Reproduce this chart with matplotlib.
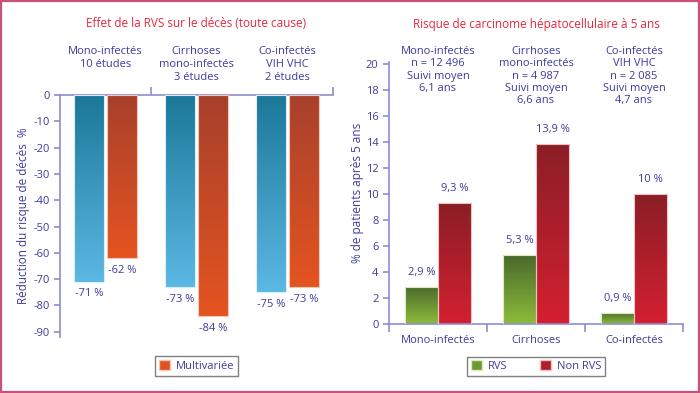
import matplotlib
matplotlib.use("Agg")
import matplotlib.pyplot as plt
import numpy as np
from matplotlib.colors import LinearSegmentedColormap
from matplotlib.patches import Rectangle

plt.rcParams['font.family'] = ['Open Sans', 'DejaVu Sans']

# ---------------- data ----------------
left_title = "Effet de la RVS sur le décès (toute cause)"
left_groups = ["Mono-infectés\n10 études", "Cirrhoses\nmono-infectés\n3 études", "Co-infectés\nVIH VHC\n2 études"]
left_univ = [-71, -73, -75]
left_multi = [-62, -84, -73]
left_yticks = [0, -10, -20, -30, -40, -50, -60, -70, -80, -90]
left_ylabel = "Réduction du risque de décès  %"
left_legend = "Multivariée"

right_title = "Risque de carcinome hépatocellulaire à 5 ans"
right_groups = ["Mono-infectés\nn = 12 496\nSuivi moyen\n6,1 ans",
                "Cirrhoses\nmono-infectés\nn = 4 987\nSuivi moyen\n6,6 ans",
                "Co-infectés\nVIH VHC\nn = 2 085\nSuivi moyen\n4,7 ans"]
right_cats = ["Mono-infectés", "Cirrhoses", "Co-infectés"]
rvs = [2.9, 5.3, 0.9]
non_rvs = [9.3, 13.9, 10.0]
right_yticks = [0, 2, 4, 6, 8, 10, 12, 14, 16, 18, 20]
right_ylabel = "% de patients après 5 ans"
right_legend = ["RVS", "Non RVS"]

# ---------------- style ----------------
TXT = "#3c3c9c"
SPINE = "#8c8cd2"
TITLE = "#e8283c"
BORDER = "#c8507a"

cm_blue = LinearSegmentedColormap.from_list("b", ["#1c7898", "#5cb8e4"])
cm_orange = LinearSegmentedColormap.from_list("o", ["#a8402c", "#e45420"])
cm_green = LinearSegmentedColormap.from_list("g", ["#4a6a2c", "#8cbc3a"])
cm_red = LinearSegmentedColormap.from_list("r", ["#8a1e26", "#d42030"])

grad = np.linspace(0, 1, 256).reshape(-1, 1)


def gradient_bars(ax, bars, cmap):
    for b in bars:
        x0, y0 = b.get_x(), b.get_y()
        w, h = b.get_width(), b.get_height()
        ylo, yhi = min(y0, y0 + h), max(y0, y0 + h)
        b.set_facecolor("none")
        im = ax.imshow(grad, cmap=cmap, aspect="auto",
                       extent=(x0, x0 + w, ylo, yhi), origin="upper", zorder=2)
        im.set_clip_path(b)


fig = plt.figure(figsize=(7.0, 3.93), dpi=100)
fig.patches.append(Rectangle((0.0015, 0.0025), 0.997, 0.995, transform=fig.transFigure,
                             fill=False, edgecolor=BORDER, linewidth=1.6))

# ---------------- left chart ----------------
axL = fig.add_axes([0.0857, 0.1425, 0.39, 0.6158])
x = np.arange(3)
w = 0.33
bu = axL.bar(x - 0.18, left_univ, w, edgecolor="#d8eef8", linewidth=0.8, zorder=3)
bm = axL.bar(x + 0.18, left_multi, w, edgecolor="#f4c8b4", linewidth=0.8, zorder=3)
gradient_bars(axL, bu, cm_blue)
gradient_bars(axL, bm, cm_orange)
axL.set_xlim(-0.5, 2.5)
axL.set_ylim(-92, 0)
axL.set_yticks(left_yticks)
axL.set_yticklabels([str(v) for v in left_yticks])
for s in ["right", "bottom"]:
    axL.spines[s].set_visible(False)
for s in ["left", "top"]:
    axL.spines[s].set_color(SPINE)
    axL.spines[s].set_linewidth(1.2)
axL.tick_params(axis="y", colors=SPINE, labelcolor=TXT, labelsize=8, length=4, width=1.2)
axL.xaxis.tick_top()
axL.set_xticks([0.5, 2.5])
axL.set_xticklabels([])
axL.tick_params(axis="x", colors=SPINE, length=6, width=1.2, direction="out")
axL.set_ylabel(left_ylabel, color=TXT, fontsize=8.5, labelpad=2)
for i in range(3):
    axL.text(x[i] - 0.18, left_univ[i] - 2.5, f"{left_univ[i]} %", ha="center", va="top",
             color=TXT, fontsize=8)
    axL.text(x[i] + 0.18, left_multi[i] - 2.5, f"{left_multi[i]} %", ha="center", va="top",
             color=TXT, fontsize=8)
    axL.text(x[i], 18.5, left_groups[i], ha="center", va="top", color=TXT, fontsize=8,
             linespacing=1.2)
axL.text(1.0, 27.0, left_title, ha="center", va="center", color=TITLE, fontsize=8.5)
legL = axL.legend([Rectangle((0, 0), 1, 1, facecolor="#e05020", edgecolor="#f4c8b4")],
                  [left_legend], loc="center", bbox_to_anchor=(0.5, -0.12),
                  frameon=True, fancybox=False, fontsize=8, handlelength=1.0,
                  handleheight=1.0, borderpad=0.35, handletextpad=0.5)
legL.get_frame().set_edgecolor("#606060")
legL.get_frame().set_linewidth(1.0)
for t in legL.get_texts():
    t.set_color(TXT)

# ---------------- right chart ----------------
axR = fig.add_axes([0.5557, 0.1748, 0.42, 0.668])
w2 = 0.337
br = axR.bar(x - w2 / 2, rvs, w2, edgecolor="#d8ecc0", linewidth=0.8, zorder=3)
bn = axR.bar(x + w2 / 2, non_rvs, w2, edgecolor="#f0c0c4", linewidth=0.8, zorder=3)
gradient_bars(axR, br, cm_green)
gradient_bars(axR, bn, cm_red)
axR.set_xlim(-0.5, 2.5)
axR.set_ylim(0, 20.2)
axR.set_yticks(right_yticks)
for s in ["right", "top"]:
    axR.spines[s].set_visible(False)
for s in ["left", "bottom"]:
    axR.spines[s].set_color(SPINE)
    axR.spines[s].set_linewidth(1.2)
axR.tick_params(axis="y", colors=SPINE, labelcolor=TXT, labelsize=8, length=4, width=1.2)
axR.set_xticks([-0.5, 0.5, 1.5, 2.5])
axR.set_xticklabels([])
axR.tick_params(axis="x", colors=SPINE, length=6, width=1.2)
for i in range(3):
    axR.text(x[i], -0.85, right_cats[i], ha="center", va="top", color=TXT, fontsize=8)
    axR.text(x[i] - w2 / 2, rvs[i] + 0.7, f"{rvs[i]:.1f} %".replace(".", ","), ha="center",
             va="bottom", color=TXT, fontsize=8)
    lab = f"{non_rvs[i]:g} %".replace(".", ",")
    axR.text(x[i] + w2 / 2, non_rvs[i] + 0.7, lab, ha="center", va="bottom", color=TXT,
             fontsize=8)
    axR.text(x[i], 21.4, right_groups[i], ha="center", va="top", color=TXT, fontsize=8,
             linespacing=1.15)
axR.set_ylabel(right_ylabel, color=TXT, fontsize=8.5, labelpad=1)
axR.text(1.0, 23.1, right_title, ha="center", va="center", color=TITLE, fontsize=8.5)
legR = axR.legend([Rectangle((0, 0), 1, 1, facecolor="#6e9a30", edgecolor="#d8ecc0"),
                   Rectangle((0, 0), 1, 1, facecolor="#b01e2a", edgecolor="#f0c0c4")],
                  right_legend, loc="center", bbox_to_anchor=(0.5, -0.16), ncol=2,
                  frameon=True, fancybox=False, fontsize=8, handlelength=1.0,
                  handleheight=1.0, borderpad=0.35, handletextpad=0.5, columnspacing=3.0)
legR.get_frame().set_edgecolor("#606060")
legR.get_frame().set_linewidth(1.0)
for t in legR.get_texts():
    t.set_color(TXT)

fig.savefig("out.png", dpi=100)
